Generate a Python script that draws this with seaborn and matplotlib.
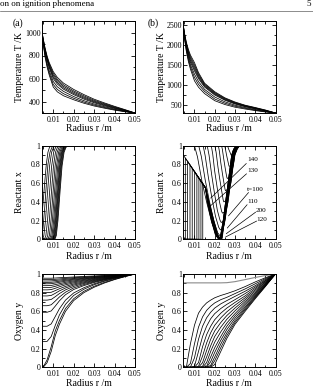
import matplotlib
matplotlib.use("Agg")
import matplotlib.pyplot as plt
import seaborn as sns
import pandas as pd
from matplotlib.lines import Line2D
from matplotlib.ticker import MultipleLocator

# ---------------- data ----------------
XTICKS = [0.01, 0.02, 0.03, 0.04, 0.05]
XTICKLABELS = ["0.01", "0.02", "0.03", "0.04", "0.05"]
FRAC_TICKS = [0, 0.2, 0.4, 0.6, 0.8, 1.0]
FRAC_LABELS = ["0", "0.2", "0.4", "0.6", "0.8", "1"]
TA_TICKS = [400, 600, 800, 1000]
TB_TICKS = [500, 1000, 1500, 2000, 2500]

# (a) temperature
R_T = [0.0045, 0.005, 0.006, 0.007, 0.008, 0.010, 0.012, 0.015, 0.020, 0.025, 0.030, 0.035, 0.040, 0.045, 0.050]
TEMP_A = [
    [1010, 955, 865, 795, 740, 660, 610, 560, 505, 460, 420, 388, 358, 330, 300],
    [1008, 950, 857, 785, 728, 645, 594, 545, 492, 449, 411, 381, 353, 327, 300],
    [1006, 945, 850, 776, 717, 630, 580, 532, 481, 439, 403, 375, 348, 324, 300],
    [1004, 940, 842, 767, 706, 615, 566, 519, 470, 430, 396, 369, 344, 321, 300],
    [1002, 935, 835, 758, 696, 600, 552, 507, 460, 421, 389, 363, 340, 318, 300],
    [1000, 925, 815, 733, 670, 574, 528, 488, 443, 407, 378, 355, 334, 315, 300],
    [998, 918, 800, 715, 650, 548, 505, 468, 428, 395, 369, 348, 329, 313, 300],
    [995, 910, 785, 698, 632, 526, 484, 450, 415, 385, 361, 342, 325, 311, 300],
]
# (b) temperature
TEMP_B = [
    [2500, 2320, 2070, 1890, 1750, 1560, 1310, 1045, 832, 680, 575, 495, 437, 375, 300],
    [2492, 2305, 2042, 1852, 1705, 1505, 1272, 1021, 811, 665, 562, 486, 429, 369, 300],
    [2485, 2290, 2015, 1815, 1660, 1455, 1235, 997, 791, 650, 550, 476, 420, 362, 300],
    [2478, 2275, 1988, 1778, 1615, 1405, 1197, 973, 770, 635, 537, 467, 411, 356, 300],
    [2470, 2260, 1960, 1740, 1570, 1355, 1160, 950, 750, 620, 525, 458, 403, 350, 300],
    [2460, 2240, 1920, 1690, 1510, 1272, 1085, 890, 700, 580, 495, 436, 385, 340, 300],
    [2450, 2215, 1880, 1640, 1455, 1188, 1015, 840, 650, 545, 470, 418, 372, 333, 300],
    [2440, 2190, 1840, 1590, 1400, 1106, 945, 785, 608, 512, 445, 400, 360, 326, 300],
]

# (a) reactant x : radius points and values per curve
XA_R = [
    [0.0045, 0.0050, 0.0058, 0.0066, 0.0074, 0.0082, 0.0092, 0.0500],
    [0.0045, 0.0050, 0.0058, 0.0066, 0.0074, 0.0084, 0.0094, 0.0104, 0.0500],
    [0.0045, 0.0054, 0.0062, 0.0072, 0.0082, 0.0092, 0.0102, 0.0114, 0.0500],
    [0.0045, 0.0057, 0.0064, 0.0072, 0.0082, 0.0092, 0.0102, 0.0112, 0.0124, 0.0500],
    [0.0045, 0.0066, 0.0073, 0.0081, 0.0091, 0.0101, 0.0111, 0.0121, 0.0133, 0.0500],
    [0.0045, 0.0074, 0.0081, 0.0089, 0.0099, 0.0109, 0.0119, 0.0129, 0.0141, 0.0500],
    [0.0045, 0.0081, 0.0088, 0.0096, 0.0106, 0.0116, 0.0126, 0.0136, 0.0148, 0.0500],
    [0.0045, 0.0087, 0.0094, 0.0102, 0.0112, 0.0122, 0.0132, 0.0142, 0.0154, 0.0500],
    [0.0045, 0.0092, 0.0099, 0.0107, 0.0117, 0.0127, 0.0137, 0.0147, 0.0159, 0.0500],
    [0.0045, 0.0096, 0.0103, 0.0111, 0.0121, 0.0131, 0.0141, 0.0151, 0.0163, 0.0500],
    [0.0045, 0.0099, 0.0106, 0.0114, 0.0124, 0.0134, 0.0144, 0.0154, 0.0166, 0.0500],
    [0.0045, 0.0102, 0.0109, 0.0117, 0.0127, 0.0137, 0.0147, 0.0157, 0.0169, 0.0500],
    [0.0045, 0.0105, 0.0112, 0.0120, 0.0130, 0.0140, 0.0150, 0.0160, 0.0172, 0.0500],
    [0.0045, 0.0108, 0.0115, 0.0123, 0.0133, 0.0143, 0.0153, 0.0163, 0.0175, 0.0500],
]
XA_V = [
    [0.26, 0.38, 0.60, 0.80, 0.93, 0.985, 1, 1],
    [0.04, 0.12, 0.33, 0.58, 0.80, 0.93, 0.985, 1, 1],
    [0, 0.04, 0.2, 0.5, 0.78, 0.93, 0.985, 1, 1],
    [0, 0, 0.04, 0.2, 0.5, 0.78, 0.93, 0.985, 1, 1],
    [0, 0, 0.04, 0.2, 0.5, 0.78, 0.93, 0.985, 1, 1],
    [0, 0, 0.04, 0.2, 0.5, 0.78, 0.93, 0.985, 1, 1],
    [0, 0, 0.04, 0.2, 0.5, 0.78, 0.93, 0.985, 1, 1],
    [0, 0, 0.04, 0.2, 0.5, 0.78, 0.93, 0.985, 1, 1],
    [0, 0, 0.04, 0.2, 0.5, 0.78, 0.93, 0.985, 1, 1],
    [0, 0, 0.04, 0.2, 0.5, 0.78, 0.93, 0.985, 1, 1],
    [0, 0, 0.04, 0.2, 0.5, 0.78, 0.93, 0.985, 1, 1],
    [0, 0, 0.04, 0.2, 0.5, 0.78, 0.93, 0.985, 1, 1],
    [0, 0, 0.04, 0.2, 0.5, 0.78, 0.93, 0.985, 1, 1],
    [0, 0, 0.04, 0.2, 0.5, 0.78, 0.93, 0.985, 1, 1],
]

# (b) reactant x
XB_R = [
    [0.0045, 0.0100, 0.0115, 0.0137, 0.0161, 0.0187, 0.0210, 0.0222, 0.0232, 0.0247, 0.0259, 0.0271, 0.0283, 0.0289, 0.0298, 0.0308, 0.0318, 0.0500],
    [0.0045, 0.0121, 0.0134, 0.0153, 0.0174, 0.0196, 0.0215, 0.0225, 0.0237, 0.0249, 0.0261, 0.0273, 0.0285, 0.0291, 0.0300, 0.0310, 0.0320, 0.0500],
    [0.0045, 0.0143, 0.0153, 0.0169, 0.0186, 0.0204, 0.0220, 0.0228, 0.0243, 0.0251, 0.0263, 0.0275, 0.0287, 0.0293, 0.0302, 0.0312, 0.0322, 0.0500],
    [0.0045, 0.0163, 0.0172, 0.0185, 0.0199, 0.0213, 0.0226, 0.0232, 0.0250, 0.0265, 0.0277, 0.0289, 0.0295, 0.0304, 0.0314, 0.0324, 0.0500],
    [0.0045, 0.0183, 0.0190, 0.0200, 0.0212, 0.0224, 0.0234, 0.0238, 0.0255, 0.0266, 0.0278, 0.0290, 0.0296, 0.0305, 0.0315, 0.0325, 0.0500],
    [0.0045, 0.0201, 0.0207, 0.0216, 0.0226, 0.0236, 0.0242, 0.0245, 0.0262, 0.0279, 0.0291, 0.0297, 0.0306, 0.0316, 0.0326, 0.0500],
    [0.0045, 0.0218, 0.0223, 0.0230, 0.0238, 0.0246, 0.0251, 0.0253, 0.0270, 0.0280, 0.0292, 0.0298, 0.0307, 0.0317, 0.0327, 0.0500],
    [0.0045, 0.0234, 0.0238, 0.0244, 0.0250, 0.0256, 0.0260, 0.0262, 0.0278, 0.0293, 0.0299, 0.0308, 0.0318, 0.0328, 0.0500],
    [0.0045, 0.0249, 0.0252, 0.0257, 0.0262, 0.0267, 0.0270, 0.0271, 0.0286, 0.0292, 0.0300, 0.0309, 0.0319, 0.0329, 0.0500],
    [0.0045, 0.0262, 0.0265, 0.0269, 0.0274, 0.0278, 0.0280, 0.0281, 0.0295, 0.0305, 0.0313, 0.0320, 0.0330, 0.0500],
    [0.0045, 0.0155, 0.0172, 0.0196, 0.0215, 0.0227, 0.0237, 0.0248, 0.0260, 0.0272, 0.0284, 0.0290, 0.0299, 0.0309, 0.0319, 0.0500],
    [0.0045, 0.0055, 0.0055, 0.0155, 0.0171, 0.0194, 0.0213, 0.0225, 0.0235, 0.0248, 0.0260, 0.0272, 0.0284, 0.0290, 0.0299, 0.0309, 0.0319, 0.0500],
    [0.0045, 0.0066, 0.0066, 0.0155, 0.0170, 0.0193, 0.0212, 0.0224, 0.0234, 0.0248, 0.0260, 0.0272, 0.0284, 0.0290, 0.0299, 0.0309, 0.0319, 0.0500],
    [0.0045, 0.0078, 0.0078, 0.0155, 0.0169, 0.0192, 0.0211, 0.0223, 0.0233, 0.0248, 0.0260, 0.0272, 0.0284, 0.0290, 0.0299, 0.0309, 0.0319, 0.0500],
    [0.0045, 0.0089, 0.0089, 0.0155, 0.0168, 0.0190, 0.0209, 0.0222, 0.0232, 0.0245, 0.0257, 0.0269, 0.0281, 0.0287, 0.0296, 0.0306, 0.0316, 0.0500],
    [0.0045, 0.0101, 0.0101, 0.0155, 0.0167, 0.0189, 0.0208, 0.0221, 0.0231, 0.0245, 0.0257, 0.0269, 0.0281, 0.0287, 0.0296, 0.0306, 0.0316, 0.0500],
    [0.0045, 0.0112, 0.0112, 0.0155, 0.0166, 0.0187, 0.0206, 0.0219, 0.0229, 0.0245, 0.0257, 0.0269, 0.0281, 0.0287, 0.0296, 0.0306, 0.0316, 0.0500],
    [0.0045, 0.0122, 0.0122, 0.0155, 0.0165, 0.0186, 0.0205, 0.0218, 0.0228, 0.0242, 0.0254, 0.0266, 0.0278, 0.0284, 0.0293, 0.0303, 0.0313, 0.0500],
    [0.0045, 0.0132, 0.0132, 0.0155, 0.0164, 0.0185, 0.0204, 0.0217, 0.0227, 0.0242, 0.0254, 0.0266, 0.0278, 0.0284, 0.0293, 0.0303, 0.0313, 0.0500],
    [0.0045, 0.0141, 0.0141, 0.0155, 0.0163, 0.0183, 0.0203, 0.0216, 0.0226, 0.0242, 0.0254, 0.0266, 0.0278, 0.0284, 0.0293, 0.0303, 0.0313, 0.0500],
]
XB_V = [
    [1, 1, 0.88, 0.62, 0.39, 0.17, 0.04, 0.01, 0.02, 0.2, 0.4, 0.6, 0.8, 0.9, 0.96, 0.99, 1, 1],
    [1, 1, 0.885, 0.635, 0.405, 0.194, 0.069, 0.04, 0.06, 0.2, 0.4, 0.6, 0.8, 0.9, 0.96, 0.99, 1, 1],
    [1, 1, 0.892, 0.658, 0.442, 0.244, 0.127, 0.10, 0.12, 0.2, 0.4, 0.6, 0.8, 0.9, 0.96, 0.99, 1, 1],
    [1, 1, 0.90, 0.69, 0.49, 0.31, 0.205, 0.18, 0.2, 0.4, 0.6, 0.8, 0.9, 0.96, 0.99, 1, 1],
    [1, 1, 0.914, 0.726, 0.554, 0.395, 0.30, 0.28, 0.3, 0.4, 0.6, 0.8, 0.9, 0.96, 0.99, 1, 1],
    [1, 1, 0.928, 0.772, 0.628, 0.496, 0.418, 0.40, 0.42, 0.6, 0.8, 0.9, 0.96, 0.99, 1, 1],
    [1, 1, 0.942, 0.818, 0.702, 0.597, 0.534, 0.52, 0.54, 0.6, 0.8, 0.9, 0.96, 0.99, 1, 1],
    [1, 1, 0.958, 0.867, 0.783, 0.706, 0.66, 0.65, 0.67, 0.8, 0.9, 0.96, 0.99, 1, 1],
    [1, 1, 0.974, 0.916, 0.864, 0.815, 0.787, 0.78, 0.79, 0.8, 0.9, 0.96, 0.99, 1, 1],
    [1, 1, 0.988, 0.962, 0.938, 0.916, 0.903, 0.90, 0.905, 0.93, 0.97, 0.99, 1, 1],
    [0.90, 0.548, 0.40, 0.20, 0.05, 0.01, 0.01, 0.2, 0.4, 0.6, 0.8, 0.9, 0.96, 0.99, 1, 1],
    [0, 0, 0.868, 0.548, 0.40, 0.20, 0.05, 0.01, 0.01, 0.2, 0.4, 0.6, 0.8, 0.9, 0.96, 0.99, 1, 1],
    [0, 0, 0.833, 0.548, 0.40, 0.20, 0.05, 0.01, 0.01, 0.2, 0.4, 0.6, 0.8, 0.9, 0.96, 0.99, 1, 1],
    [0, 0, 0.794, 0.548, 0.40, 0.20, 0.05, 0.01, 0.01, 0.2, 0.4, 0.6, 0.8, 0.9, 0.96, 0.99, 1, 1],
    [0, 0, 0.759, 0.548, 0.40, 0.20, 0.05, 0.01, 0.01, 0.2, 0.4, 0.6, 0.8, 0.9, 0.96, 0.99, 1, 1],
    [0, 0, 0.721, 0.548, 0.40, 0.20, 0.05, 0.01, 0.01, 0.2, 0.4, 0.6, 0.8, 0.9, 0.96, 0.99, 1, 1],
    [0, 0, 0.686, 0.548, 0.40, 0.20, 0.05, 0.01, 0.01, 0.2, 0.4, 0.6, 0.8, 0.9, 0.96, 0.99, 1, 1],
    [0, 0, 0.654, 0.548, 0.40, 0.20, 0.05, 0.01, 0.01, 0.2, 0.4, 0.6, 0.8, 0.9, 0.96, 0.99, 1, 1],
    [0, 0, 0.622, 0.548, 0.40, 0.20, 0.05, 0.01, 0.01, 0.2, 0.4, 0.6, 0.8, 0.9, 0.96, 0.99, 1, 1],
    [0, 0, 0.593, 0.548, 0.40, 0.20, 0.05, 0.01, 0.01, 0.2, 0.4, 0.6, 0.8, 0.9, 0.96, 0.99, 1, 1],
]
XB_LABELS = ["140", "130", "t=100", "110", "200", "120"]
XB_LABEL_POS = [(0.0387, 0.85), (0.0389, 0.733), (0.0400, 0.527), (0.0387, 0.40), (0.0429, 0.31), (0.0434, 0.214)]
XB_LEADER_FROM = [(0.0356, 0.81), (0.0357, 0.70), (0.0367, 0.50), (0.0360, 0.37), (0.0402, 0.29), (0.0407, 0.195)]
XB_LEADER_TO = [(0.0180, 0.44), (0.0170, 0.34), (0.0268, 0.25), (0.0262, 0.12), (0.0257, 0.06), (0.0254, 0.025)]

# (a) oxygen y
R_YA = [0.0045, 0.0055, 0.007, 0.009, 0.011, 0.013, 0.016, 0.020, 0.025, 0.030, 0.035, 0.040, 0.045, 0.050]
OXY_A = [
    [0.955, 0.955, 0.955, 0.955, 0.957, 0.960, 0.963, 0.968, 0.974, 0.979, 0.984, 0.989, 0.995, 1.0],
    [0.940, 0.940, 0.940, 0.940, 0.943, 0.947, 0.953, 0.960, 0.967, 0.974, 0.981, 0.987, 0.994, 1.0],
    [0.925, 0.925, 0.925, 0.926, 0.930, 0.935, 0.943, 0.952, 0.961, 0.969, 0.977, 0.985, 0.993, 1.0],
    [0.910, 0.910, 0.910, 0.911, 0.916, 0.923, 0.933, 0.944, 0.954, 0.964, 0.973, 0.982, 0.991, 1.0],
    [0.895, 0.895, 0.895, 0.896, 0.903, 0.911, 0.923, 0.936, 0.948, 0.959, 0.970, 0.980, 0.990, 1.0],
    [0.875, 0.875, 0.875, 0.877, 0.886, 0.896, 0.911, 0.926, 0.941, 0.954, 0.966, 0.977, 0.989, 1.0],
    [0.855, 0.855, 0.855, 0.857, 0.868, 0.881, 0.898, 0.916, 0.933, 0.948, 0.962, 0.975, 0.988, 1.0],
    [0.830, 0.830, 0.830, 0.833, 0.847, 0.863, 0.884, 0.905, 0.925, 0.942, 0.958, 0.972, 0.986, 1.0],
    [0.800, 0.800, 0.800, 0.804, 0.822, 0.842, 0.867, 0.893, 0.916, 0.936, 0.953, 0.969, 0.985, 1.0],
    [0.765, 0.765, 0.765, 0.770, 0.793, 0.819, 0.850, 0.881, 0.907, 0.930, 0.949, 0.967, 0.983, 1.0],
    [0.720, 0.720, 0.720, 0.727, 0.757, 0.790, 0.830, 0.867, 0.898, 0.923, 0.945, 0.964, 0.982, 1.0],
    [0.660, 0.660, 0.660, 0.670, 0.710, 0.753, 0.805, 0.851, 0.887, 0.916, 0.940, 0.961, 0.981, 1.0],
    [0.590, 0.590, 0.590, 0.604, 0.656, 0.712, 0.778, 0.834, 0.876, 0.909, 0.936, 0.959, 0.980, 1.0],
    [0.440, 0.440, 0.440, 0.465, 0.545, 0.627, 0.720, 0.797, 0.853, 0.895, 0.928, 0.955, 0.978, 1.0],
    [0.275, 0.275, 0.278, 0.330, 0.450, 0.560, 0.675, 0.770, 0.837, 0.885, 0.922, 0.951, 0.976, 1.0],
    [0.000, 0.020, 0.080, 0.220, 0.390, 0.500, 0.630, 0.735, 0.815, 0.868, 0.910, 0.944, 0.973, 1.0],
    [0.000, 0.010, 0.050, 0.170, 0.340, 0.460, 0.600, 0.715, 0.800, 0.858, 0.903, 0.940, 0.971, 1.0],
]

# (b) oxygen y
R_YB = [0.0045, 0.006, 0.008, 0.010, 0.012, 0.014, 0.016, 0.018, 0.020, 0.023, 0.026, 0.030, 0.035, 0.040, 0.045, 0.050]
OXY_B_GREY = [0.905, 0.905, 0.905, 0.905, 0.905, 0.905, 0.905, 0.905, 0.905, 0.905, 0.907, 0.918, 0.940, 0.963, 0.983, 1.0]
OXY_B = [
    [0, 0, 0.25, 0.45, 0.58, 0.645, 0.69, 0.72, 0.745, 0.77, 0.79, 0.82, 0.865, 0.915, 0.96, 1],
    [0, 0, 0.04, 0.25, 0.43, 0.54, 0.61, 0.655, 0.69, 0.725, 0.75, 0.79, 0.84, 0.895, 0.95, 1],
    [0, 0, 0, 0.10, 0.30, 0.44, 0.53, 0.59, 0.635, 0.68, 0.715, 0.76, 0.815, 0.875, 0.94, 1],
    [0, 0, 0, 0.01, 0.17, 0.33, 0.44, 0.52, 0.575, 0.63, 0.675, 0.725, 0.79, 0.86, 0.93, 1],
    [0, 0, 0, 0, 0.05, 0.22, 0.35, 0.44, 0.51, 0.58, 0.635, 0.695, 0.765, 0.845, 0.925, 1],
    [0, 0, 0, 0, 0.01, 0.12, 0.26, 0.37, 0.45, 0.53, 0.595, 0.665, 0.745, 0.83, 0.915, 1],
    [0, 0, 0, 0, 0, 0.05, 0.18, 0.30, 0.39, 0.48, 0.555, 0.635, 0.725, 0.815, 0.91, 1],
    [0, 0, 0, 0, 0, 0.01, 0.11, 0.23, 0.33, 0.43, 0.515, 0.605, 0.705, 0.80, 0.90, 1],
    [0, 0, 0, 0, 0, 0, 0.05, 0.17, 0.27, 0.38, 0.475, 0.575, 0.685, 0.79, 0.895, 1],
    [0, 0, 0, 0, 0, 0, 0.01, 0.11, 0.21, 0.33, 0.44, 0.55, 0.665, 0.775, 0.885, 1],
    [0, 0, 0, 0, 0, 0, 0, 0.06, 0.16, 0.29, 0.405, 0.525, 0.645, 0.765, 0.88, 1],
    [0, 0, 0, 0, 0, 0, 0, 0.02, 0.11, 0.25, 0.37, 0.50, 0.63, 0.755, 0.875, 1],
    [0, 0, 0, 0, 0, 0, 0, 0.005, 0.07, 0.21, 0.34, 0.48, 0.615, 0.745, 0.87, 1],
    [0, 0, 0, 0, 0, 0, 0, 0, 0.03, 0.17, 0.31, 0.46, 0.60, 0.735, 0.865, 1],
]

# ---------------- helpers ----------------
def grid_frame(grid, curves):
    rows = []
    for i, c in enumerate(curves):
        for r, v in zip(grid, c):
            rows.append((i, r, v))
    return pd.DataFrame(rows, columns=["curve", "r", "v"])


def pair_frame(rs, vs):
    rows = []
    for i, (rr, vv) in enumerate(zip(rs, vs)):
        for r, v in zip(rr, vv):
            rows.append((i, r, v))
    return pd.DataFrame(rows, columns=["curve", "r", "v"])


sns.set_theme(style="ticks")
plt.rcParams["font.family"] = ["Liberation Serif", "DejaVu Serif"]
plt.rcParams["axes.edgecolor"] = "black"
plt.rcParams["text.color"] = "black"
plt.rcParams["axes.labelcolor"] = "black"
plt.rcParams["xtick.color"] = "black"
plt.rcParams["ytick.color"] = "black"

W, H = 313, 390
fig = plt.figure(figsize=(W / 100, H / 100), dpi=100)
fig.patch.set_facecolor("white")


def add_ax(l, t, r, b):
    return fig.add_axes([l / W, 1 - b / H, (r - l) / W, (b - t) / H])


LW = 0.55


def draw(ax, df, color="black", lw=LW):
    sns.lineplot(data=df, x="r", y="v", units="curve", estimator=None, sort=False,
                 color=color, linewidth=lw, ax=ax, legend=False)


def style(ax, ylim, yticks, ylabels, yminor, ylabel, xlab_y):
    ax.set_xlim(0.0045, 0.05)
    ax.set_ylim(*ylim)
    ax.set_xticks(XTICKS)
    ax.set_xticklabels(XTICKLABELS)
    ax.xaxis.set_minor_locator(MultipleLocator(0.005))
    ax.set_yticks(yticks)
    ax.set_yticklabels(ylabels)
    ax.yaxis.set_minor_locator(MultipleLocator(yminor))
    ax.tick_params(which="both", direction="in", top=True, right=True, width=0.6)
    ax.tick_params(which="major", length=3.2, labelsize=5.7)
    ax.tick_params(which="minor", length=1.8)
    ax.tick_params(axis="y", pad=1.0)
    ax.tick_params(axis="x", pad=2.0)
    ax.set_xlabel("Radius r /m", fontsize=7)
    ax.set_ylabel(ylabel, fontsize=7)
    ax.xaxis.set_label_coords(0.5, xlab_y)
    ax.yaxis.set_label_coords(-0.19, 0.5)
    for s in ax.spines.values():
        s.set_linewidth(0.7)
        s.set_color("black")
    ax.set_facecolor("white")


# top row
ax1 = add_ax(42, 21, 135, 113)
draw(ax1, grid_frame(R_T, TEMP_A))
style(ax1, (300, 1100), TA_TICKS, [str(t) for t in TA_TICKS], 100, "Temperature T /K", -0.115)

ax2 = add_ax(183.3, 21, 275.5, 113)
draw(ax2, grid_frame(R_T, TEMP_B))
style(ax2, (300, 2600), TB_TICKS, [str(t) for t in TB_TICKS], 250, "Temperature T /K", -0.115)

# middle row
ax3 = add_ax(42, 145.7, 135, 239.3)
draw(ax3, pair_frame(XA_R, XA_V))
style(ax3, (0, 1), FRAC_TICKS, FRAC_LABELS, 0.1, "Reactant x", -0.135)

ax4 = add_ax(183.3, 145.7, 275.5, 239.3)
draw(ax4, pair_frame(XB_R, XB_V))
style(ax4, (0, 1), FRAC_TICKS, FRAC_LABELS, 0.1, "Reactant x", -0.135)
for lab, pos, p0, p1 in zip(XB_LABELS, XB_LABEL_POS, XB_LEADER_FROM, XB_LEADER_TO):
    ax4.text(pos[0], pos[1], lab, fontsize=5.2, ha="center", va="center")
    ax4.plot([p0[0], p1[0]], [p0[1], p1[1]], color="black", lw=0.5)

# bottom row
ax5 = add_ax(42, 274, 135, 367.3)
draw(ax5, grid_frame(R_YA, OXY_A))
style(ax5, (0, 1), FRAC_TICKS, FRAC_LABELS, 0.1, "Oxygen y", -0.125)

ax6 = add_ax(183.3, 274, 275.5, 367.3)
draw(ax6, grid_frame(R_YB, [OXY_B_GREY]), color="#8a8a8a", lw=0.8)
draw(ax6, grid_frame(R_YB, OXY_B))
style(ax6, (0, 1), FRAC_TICKS, FRAC_LABELS, 0.1, "Oxygen y", -0.125)

# panel letters and page header
fig.text(18.3 / W, 1 - 23.5 / H, "(a)", fontsize=7, ha="center", va="center")
fig.text(153 / W, 1 - 23.5 / H, "(b)", fontsize=7, ha="center", va="center")
fig.text(0.0, 1 - 4.5 / H, "on on ignition phenomena", fontsize=6.5, ha="left", va="center")
fig.text(309 / W, 1 - 4.5 / H, "5", fontsize=6.5, ha="center", va="center")
fig.add_artist(Line2D([0, 1], [1 - 10.8 / H, 1 - 10.8 / H], color="#8c8c8c", lw=0.7,
                      transform=fig.transFigure))

fig.savefig("out.png", dpi=100, facecolor="white")
